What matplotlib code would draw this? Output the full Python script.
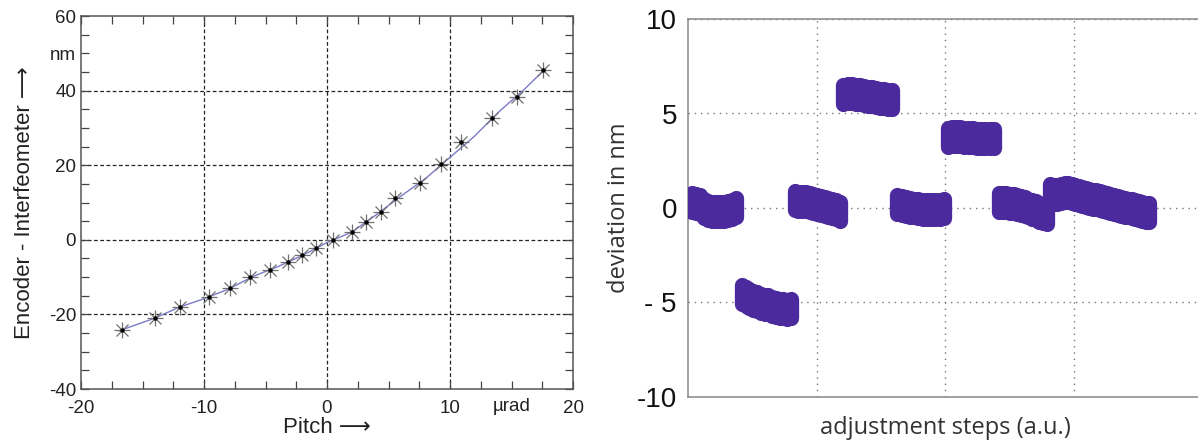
import numpy as np
import matplotlib
matplotlib.use("Agg")
import matplotlib.pyplot as plt
from matplotlib.ticker import MultipleLocator, FixedLocator

plt.rcParams["font.family"] = ["Liberation Sans", "DejaVu Sans"]

# ── Left panel: encoder - interferometer vs pitch ─────────────────────────────
pitch_urad = [-16.7, -14.0, -11.95, -9.6, -7.85, -6.25, -4.6, -3.2, -2.0, -0.9,
              0.5, 2.05, 3.15, 4.35, 5.55, 7.6, 9.25, 10.9, 13.4, 15.45, 17.6]
diff_nm = [-24.1, -21.0, -18.0, -15.4, -13.0, -10.1, -8.2, -6.0, -4.2, -2.1,
           0.0, 2.05, 4.8, 7.5, 11.2, 15.2, 20.3, 26.1, 32.7, 38.4, 45.5]

# fitted curve
fit_x = [-16.9, -14, -12, -10, -8, -6, -4, -2, 0, 2, 4, 6, 8, 10, 12, 14, 16, 17.8]
fit_y = [-24.4, -21.0, -18.05, -15.8, -13.2, -9.8, -7.2, -4.2, -0.75, 2.05,
         6.7, 11.7, 16.4, 22.1, 27.8, 34.4, 40.2, 46.0]

# ── Right panel: deviation per adjustment step ────────────────────────────────
seg_start = [0.03, 0.42, 0.83, 1.21, 1.63, 2.02, 2.42, 2.82]
seg_end   = [0.37, 0.80, 1.18, 1.59, 1.99, 2.38, 2.79, 3.59]
seg_dev = [
    [0.3, 0.25, 0.2, -0.05, -0.15, -0.2, -0.2, -0.2, -0.2, -0.15, -0.1, 0.05],
    [-4.6, -4.7, -4.8, -4.9, -4.95, -5.05, -5.1, -5.1, -5.2, -5.25, -5.3,
     -5.3, -5.35, -5.3],
    [0.4, 0.35, 0.35, 0.35, 0.3, 0.25, 0.2, 0.15, 0.1, 0.05, -0.05, -0.1, -0.2],
    [6.0, 6.05, 6.05, 6.0, 6.0, 5.95, 5.9, 5.9, 5.85, 5.8, 5.8, 5.75, 5.75],
    [0.2, 0.15, 0.1, 0.05, 0.0, -0.05, -0.1, -0.1, -0.1, -0.1, -0.1, -0.05],
    [3.75, 3.8, 3.8, 3.8, 3.75, 3.75, 3.75, 3.7, 3.7, 3.7, 3.7, 3.7],
    [0.3, 0.3, 0.3, 0.25, 0.25, 0.2, 0.15, 0.1, 0.0, -0.1, -0.15, -0.25,
     -0.3, -0.35],
    [0.75, 0.7, 0.7, 0.75, 0.8, 0.8, 0.75, 0.7, 0.65, 0.6, 0.55, 0.5, 0.45,
     0.45, 0.4, 0.35, 0.3, 0.25, 0.2, 0.15, 0.1, 0.05, 0.0, -0.05, -0.1,
     -0.15, -0.2, -0.25, -0.25],
]

PURPLE = "#4b2a9e"
W, H = 1198, 444
fig = plt.figure(figsize=(W / 100, H / 100), dpi=100)

# ── Left ──────────────────────────────────────────────────────────────────────
ax = fig.add_axes([81 / W, 1 - 389 / H, (573 - 81) / W, (389 - 16) / H])
ax.plot(fit_x, fit_y, color="#7a7ac8", lw=1.0, zorder=2)
ax.plot(pitch_urad, diff_nm, ls="none", marker="+", ms=11, mew=0.9, color="#707070", zorder=3)
ax.plot(pitch_urad, diff_nm, ls="none", marker="x", ms=8, mew=0.9, color="#707070", zorder=3)
ax.plot(pitch_urad, diff_nm, ls="none", marker="o", ms=2.2, color="black", zorder=4)

ax.set_xlim(-20, 20)
ax.set_ylim(-40, 60)
ax.xaxis.set_major_locator(FixedLocator([-20, -10, 0, 10, 15, 20]))
ax.set_xticklabels(["-20", "-10", "0", "10", "", "20"])
ax.yaxis.set_major_locator(FixedLocator([-40, -20, 0, 20, 40, 50, 60]))
ax.set_yticklabels(["-40", "-20", "0", "20", "40", "nm", "60"])
ax.xaxis.set_minor_locator(MultipleLocator(2.5))
ax.yaxis.set_minor_locator(MultipleLocator(5))
ax.tick_params(which="both", direction="in", top=True, right=True, length=6,
               width=0.9, color="#444444", labelsize=13.5, labelcolor="#222222")
ax.tick_params(axis="x", pad=8)
for gx in [-10, 0, 10]:
    ax.axvline(gx, color="#222222", lw=0.9, ls=(0, (3, 2)), zorder=1)
for gy in [-20, 0, 20, 40]:
    ax.axhline(gy, color="#222222", lw=0.9, ls=(0, (3, 2)), zorder=1)
for s in ax.spines.values():
    s.set_color("#555555")
    s.set_linewidth(1.1)
ax.text(15, -42.5, "µrad", ha="center", va="top", fontsize=13.5, color="#222222")
ax.set_xlabel("Pitch ⟶", fontsize=16, color="#222222", labelpad=0)
ax.set_ylabel("Encoder - Interfeometer ⟶", fontsize=16, color="#222222", labelpad=10)

# ── Right ─────────────────────────────────────────────────────────────────────
ax2 = fig.add_axes([688 / W, 1 - 397 / H, 514 / W, (397 - 19) / H])
for x0, x1, ys in zip(seg_start, seg_end, seg_dev):
    ys = np.asarray(ys)
    xs = np.linspace(x0, x1, len(ys))
    lc = ax2.vlines(xs, ys - 0.5, ys + 0.5, color=PURPLE, lw=11, zorder=3)
    lc.set_capstyle("round")

ax2.set_xlim(0, 4)
ax2.set_ylim(-10, 10)
ax2.set_xticks([1, 2, 3])
ax2.set_xticklabels([])
ax2.set_yticks([-10, -5, 0, 5, 10])
ax2.set_yticklabels(["-10", "- 5", "0", "5", "10"])
ax2.tick_params(length=0, labelsize=20, labelcolor="#111111", pad=8)
ax2.grid(True, color="#777777", lw=1.0, ls=(0, (1, 3.5)))
ax2.set_axisbelow(True)
for s in ax2.spines.values():
    s.set_color("#888888")
    s.set_linewidth(1.1)
ax2.set_ylabel("deviation in nm", fontsize=17, color="#333333",
               family=["Open Sans", "DejaVu Sans"], labelpad=4)
ax2.set_xlabel("adjustment steps (a.u.)", fontsize=17, color="#333333",
               family=["Open Sans", "DejaVu Sans"], labelpad=6)

fig.savefig("out.png", dpi=100)
